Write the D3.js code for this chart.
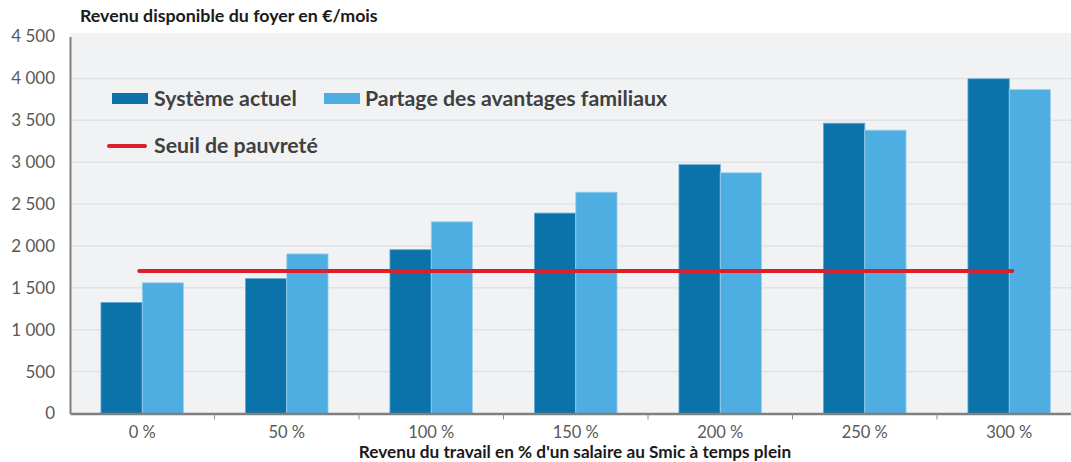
<!DOCTYPE html>
<html>
<head>
<meta charset="utf-8">
<script src="https://cdn.jsdelivr.net/npm/d3@7"></script>
<style>
  body { margin: 0; background: #fff; }
  text { font-family: Lato, "Open Sans", sans-serif; }
</style>
</head>
<body>
<script>
const w = 1071;
const h = 462;

// data
const categories = ["0 %", "50 %", "100 %", "150 %", "200 %", "250 %", "300 %"];
const actuel = [1325, 1610, 1955, 2392, 2970, 3465, 3995];
const partage = [1560, 1905, 2288, 2642, 2873, 3382, 3867];
const seuil = 1700;
const yTicks = [0, 500, 1000, 1500, 2000, 2500, 3000, 3500, 4000, 4500];

const margin = {left: 70, top: 36.5, bottom: 413.5};
const step = 144.5;

let svg = d3.select("body")
  .append("svg")
    .attr("width", w)
    .attr("height", h);

let x = d3.scaleBand()
  .domain(categories)
  .range([margin.left, margin.left + step * categories.length])
  .padding(0);

let y = d3.scaleLinear()
  .domain([0, 4500])
  .range([margin.bottom, margin.top]);

// plot background
svg.append("rect")
  .attr("x", margin.left)
  .attr("y", 33)
  .attr("width", w - margin.left)
  .attr("height", margin.bottom - 33)
  .attr("fill", "#f1f2f4");

// gridlines
svg.selectAll(".grid")
  .data(yTicks.slice(1, -1))
  .enter()
  .append("line")
    .attr("x1", margin.left)
    .attr("x2", w)
    .attr("y1", d => y(d))
    .attr("y2", d => y(d))
    .attr("stroke", "#e1e2e5")
    .attr("stroke-width", 1.5);

// bars
const barW = 41.3;
const groups = svg.selectAll(".grp")
  .data(categories)
  .enter()
  .append("g")
    .attr("transform", d => "translate(" + (x(d) + x.bandwidth() / 2) + ",0)");

groups.append("rect")
  .attr("x", -barW)
  .attr("width", barW)
  .attr("y", (d, i) => y(actuel[i]))
  .attr("height", (d, i) => y(0) - y(actuel[i]))
  .attr("fill", "#0b73a9")
  .attr("stroke", "#5ea9d3")
  .attr("stroke-width", 0.8);

groups.append("rect")
  .attr("x", 0)
  .attr("width", barW)
  .attr("y", (d, i) => y(partage[i]))
  .attr("height", (d, i) => y(0) - y(partage[i]))
  .attr("fill", "#4eaee2")
  .attr("stroke", "#9fd2ef")
  .attr("stroke-width", 0.8);

// poverty line, from first to last category centre
svg.append("line")
  .attr("x1", x(categories[0]) + x.bandwidth() / 2 - 3)
  .attr("x2", x(categories[categories.length - 1]) + x.bandwidth() / 2 + 3)
  .attr("y1", y(seuil))
  .attr("y2", y(seuil))
  .attr("stroke", "#dc1f2b")
  .attr("stroke-width", 4)
  .attr("stroke-linecap", "round");

// axes
const yAxis = svg.append("g")
  .attr("transform", "translate(" + margin.left + ",0)")
  .call(d3.axisLeft(y).tickValues(yTicks).tickSize(0).tickPadding(15)
    .tickFormat(d => d3.format(",")(d).replace(",", "\u202f")));
yAxis.select(".domain").attr("stroke", "#7f7f7f").attr("stroke-width", 2);
yAxis.selectAll("text")
  .attr("font-size", 17)
  .attr("fill", "#595959")
  .attr("font-family", "Lato, sans-serif");

const xAxis = svg.append("g")
  .attr("transform", "translate(0," + margin.bottom + ")")
  .call(d3.axisBottom(x).tickSize(0).tickPadding(13));
xAxis.select(".domain").attr("stroke", "#7f7f7f").attr("stroke-width", 2.5);
xAxis.selectAll("text")
  .attr("font-size", 16.5)
  .attr("fill", "#595959")
  .attr("font-family", "Lato, sans-serif");

// tick marks between categories
svg.selectAll(".sep")
  .data(categories.slice(1))
  .enter()
  .append("line")
    .attr("x1", d => x(d))
    .attr("x2", d => x(d))
    .attr("y1", margin.bottom)
    .attr("y2", margin.bottom + 6)
    .attr("stroke", "#8c8c8c")
    .attr("stroke-width", 1);

// titles
svg.append("text")
  .attr("x", 80)
  .attr("y", 22)
  .attr("font-size", 17.8)
  .attr("font-weight", "bold")
  .attr("fill", "#1a1a1a")
  .text("Revenu disponible du foyer en €/mois");

svg.append("text")
  .attr("x", 575)
  .attr("y", 458)
  .attr("text-anchor", "middle")
  .attr("font-size", 17.2)
  .attr("font-weight", "bold")
  .attr("fill", "#1a1a1a")
  .text("Revenu du travail en % d'un salaire au Smic à temps plein");

// legend
const legend = svg.append("g");
legend.append("rect").attr("x", 112).attr("y", 93).attr("width", 36).attr("height", 11).attr("fill", "#0b73a9");
legend.append("text").attr("x", 154).attr("y", 106).attr("font-size", 21.3).attr("font-weight", "bold")
  .attr("fill", "#404040").text("Système actuel");
legend.append("rect").attr("x", 324).attr("y", 93).attr("width", 36).attr("height", 11).attr("fill", "#4eaee2");
legend.append("text").attr("x", 365).attr("y", 106).attr("font-size", 21.3).attr("font-weight", "bold")
  .attr("fill", "#404040").text("Partage des avantages familiaux");
legend.append("line").attr("x1", 109).attr("x2", 145).attr("y1", 146).attr("y2", 146)
  .attr("stroke", "#dc1f2b").attr("stroke-width", 4).attr("stroke-linecap", "round");
legend.append("text").attr("x", 154).attr("y", 153).attr("font-size", 21.3).attr("font-weight", "bold")
  .attr("fill", "#404040").text("Seuil de pauvreté");
</script>
</body>
</html>
